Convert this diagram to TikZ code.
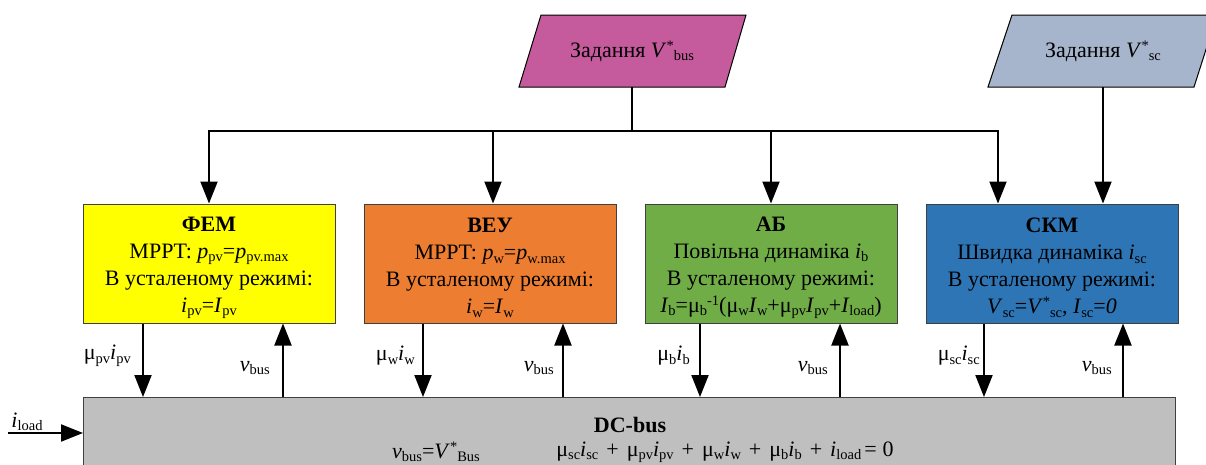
\documentclass[tikz,border=0pt]{standalone}
\usepackage{fontspec}
\setmainfont{Liberation Serif}
\usetikzlibrary{arrows.meta,calc}
\newcommand\sbs[1]{\raisebox{-3.5pt}{\fontsize{14.5}{14.5}\selectfont #1}}
\newcommand\sps[1]{\raisebox{7pt}{\fontsize{14.5}{14.5}\selectfont #1}}
\newcommand\vi[1]{\textit{#1}}
\newcommand\pl{\hspace{8pt}+\hspace{8pt}}
\definecolor{cyel}{HTML}{FFFF00}
\definecolor{cora}{HTML}{ED7D31}
\definecolor{cgrn}{HTML}{70AD47}
\definecolor{cblu}{HTML}{2E75B6}
\definecolor{cpnk}{HTML}{C55A9D}
\definecolor{cgbl}{HTML}{A6B5CC}
\definecolor{cbus}{HTML}{BFBFBF}
\definecolor{cbrd}{HTML}{404040}
\tikzset{
  unitbox/.style={draw=cbrd, line width=1pt, minimum width=252pt, minimum height=119pt, inner sep=0pt},
  boxtext/.style={align=center, inner sep=0pt},
  conn/.style={line width=2pt},
  arr/.style={line width=2pt, -{Triangle[width=17pt,length=22pt]}},
  lbl/.style={inner sep=0pt, anchor=east},
  partext/.style={inner sep=0pt, minimum height=72pt, minimum width=160pt}
}
\begin{document}
\begin{tikzpicture}[x=1pt,y=-1pt,font=\fontsize{22}{27}\selectfont]
\useasboundingbox (0,0) rectangle (1206,464);
% reference parallelograms
\draw[fill=cpnk, draw=black, line width=1pt] (541,15) -- (746,15) -- (725,87) -- (519,87) -- cycle;
\draw[fill=cgbl, draw=black, line width=1pt] (1012,15) -- (1217,15) -- (1194,87) -- (988,87) -- cycle;
\node[partext] (refbus) at (632,51) {Задання \vi{V}\sps{*}\sbs{bus}};
\node[partext] (refsc) at (1103,51) {Задання \vi{V}\sps{*}\sbs{sc}};
% unit boxes
\node[unitbox, fill=cyel] (fem) at (209,263.5) {};
\node[unitbox, fill=cora] (veu) at (490,263.5) {};
\node[unitbox, fill=cgrn] (ab) at (771,263.5) {};
\node[unitbox, fill=cblu] (skm) at (1052,263.5) {};
\node[boxtext] (femt) at (209,268) {\textbf{ФЕМ}\\MPPT: \vi{p}\sbs{pv}=\vi{p}\sbs{pv.max}\\В усталеному режимі:\\\vi{i}\sbs{pv}=\vi{I}\sbs{pv}};
\node[boxtext] (veut) at (490,268) {\textbf{ВЕУ}\\MPPT: \vi{p}\sbs{w}=\vi{p}\sbs{w.max}\\В усталеному режимі:\\\vi{i}\sbs{w}=\vi{I}\sbs{w}};
\node[boxtext] (abt) at (771,268) {\textbf{АБ}\\Повільна динаміка \vi{i}\sbs{b}\\В усталеному режимі:\\\vi{I}\sbs{b}=μ\sbs{b}\sps{-1}(μ\sbs{w}\vi{I}\sbs{w}+μ\sbs{pv}\vi{I}\sbs{pv}+\vi{I}\sbs{load})};
\node[boxtext] (skmt) at (1052,268) {\textbf{СКМ}\\Швидка динаміка \vi{i}\sbs{sc}\\В усталеному режимі:\\\vi{V}\sbs{sc}=\vi{V}\sps{*}\sbs{sc}, \vi{I}\sbs{sc}=\vi{0}};
% DC bus
\node[draw=cbrd, line width=1pt, fill=cbus, minimum width=1092pt, minimum height=90pt, inner sep=0pt, anchor=north west] (bus) at (83,397) {};
\node[inner sep=0pt] (bust) at (630,425) {\textbf{DC-bus}};
\node[inner sep=0pt] (buseq1) at (436,452) {\vi{v}\sbs{bus}=\vi{V}\sps{*}\sbs{Bus}};
\node[inner sep=0pt] (buseq2) at (725,452) {μ\sbs{sc}\vi{i}\sbs{sc}\pl μ\sbs{pv}\vi{i}\sbs{pv}\pl μ\sbs{w}\vi{i}\sbs{w}\pl μ\sbs{b}\vi{i}\sbs{b}\pl \vi{i}\sbs{load}\hspace{3pt}=\hspace{6pt}0};
% top distribution
\coordinate (split) at (632,131);
\draw[conn] (refbus.south) -- (split);
\draw[arr] (split) -| (fem.north);
\draw[arr] (split) -| (veu.north -| 493,0);
\draw[arr] (split) -| (ab.north);
\draw[arr] (split) -| (skm.north -| 998,0);
\draw[arr] (refsc.south) -- (skm.north -| refsc.south);
% bus connections
\draw[arr] (fem.south -| 143,0) -- (bus.north -| 143,0);
\draw[arr] (bus.north -| 283,0) -- (fem.south -| 283,0);
\draw[arr] (veu.south -| 423,0) -- (bus.north -| 423,0);
\draw[arr] (bus.north -| 563,0) -- (veu.south -| 563,0);
\draw[arr] (ab.south -| 700,0) -- (bus.north -| 700,0);
\draw[arr] (bus.north -| 840,0) -- (ab.south -| 840,0);
\draw[arr] (skm.south -| 984,0) -- (bus.north -| 984,0);
\draw[arr] (bus.north -| 1123,0) -- (skm.south -| 1123,0);
% labels
\node[lbl] (l1) at (131,356) {μ\sbs{pv}\vi{i}\sbs{pv}};
\node[lbl] (l2) at (270,368) {\vi{v}\sbs{bus}};
\node[lbl] (l3) at (415,356) {μ\sbs{w}\vi{i}\sbs{w}};
\node[lbl] (l4) at (554,368) {\vi{v}\sbs{bus}};
\node[lbl] (l5) at (690,356) {μ\sbs{b}\vi{i}\sbs{b}};
\node[lbl] (l6) at (828,368) {\vi{v}\sbs{bus}};
\node[lbl] (l7) at (980,356) {μ\sbs{sc}\vi{i}\sbs{sc}};
\node[lbl] (l8) at (1112,368) {\vi{v}\sbs{bus}};
% load input
\coordinate (lstart) at (8,433);
\draw[arr] (lstart) -- (bus.west |- lstart);
\node[inner sep=0pt] (lload) at (27,422) {\vi{i}\sbs{load}};
\end{tikzpicture}
\end{document}
